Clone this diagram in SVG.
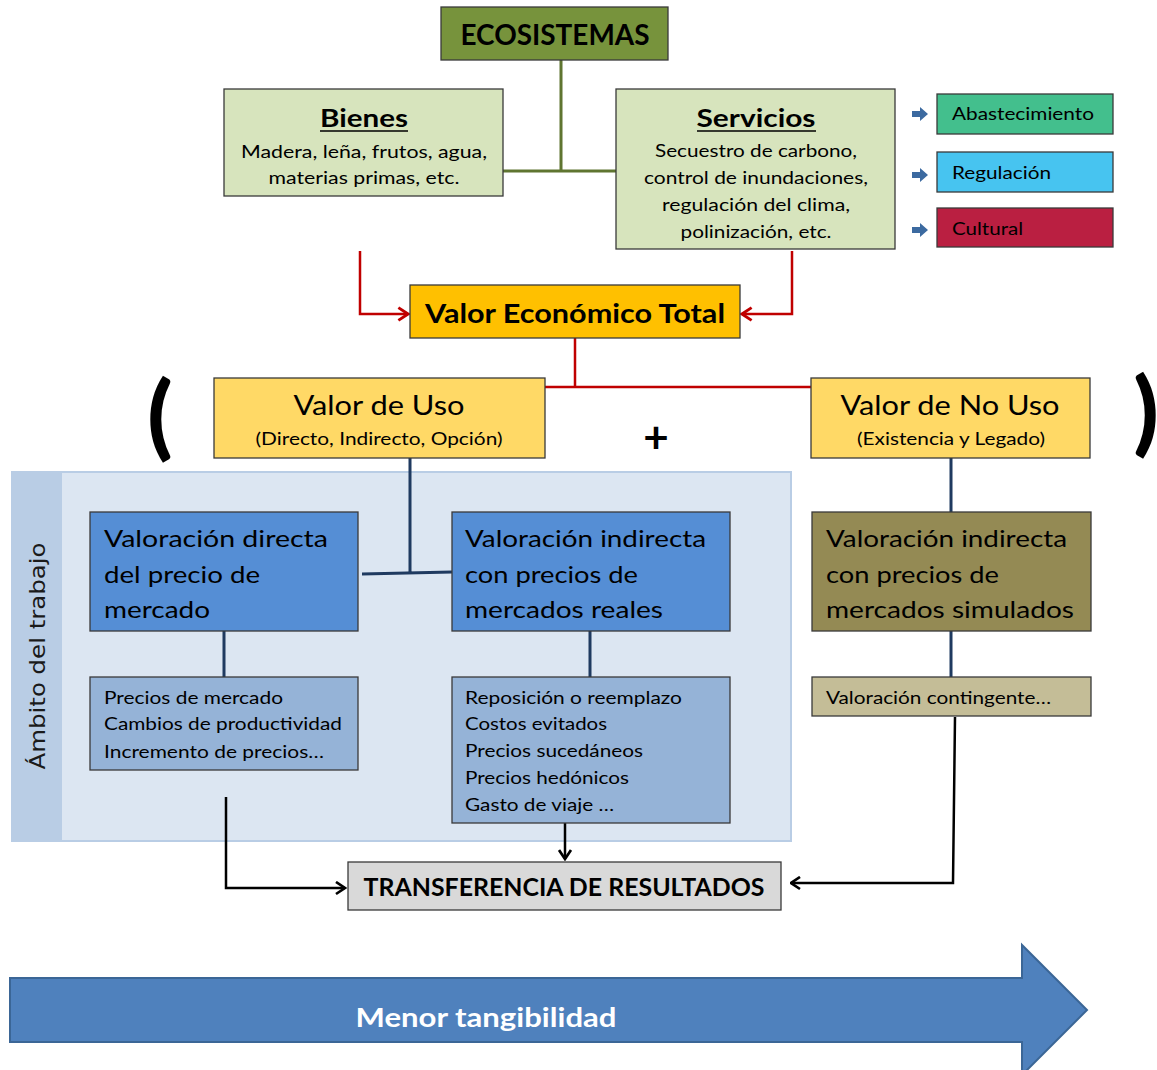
<svg xmlns="http://www.w3.org/2000/svg" width="1157" height="1070" viewBox="0 0 1157 1070">
<style>
text{font-family:Lato,"Open Sans","Liberation Sans",sans-serif;fill:#000}
.b{font-weight:bold}
.box{stroke:#3a3a3a;stroke-width:1.3}
.g{stroke:#5f7530;stroke-width:3;fill:none}
.r{stroke:#c00000;stroke-width:2.5;fill:none}
.n{stroke:#1f3a60;stroke-width:3;fill:none}
.k{stroke:#000;stroke-width:2.5;fill:none}
</style>
<defs>
<marker id="ar" viewBox="0 0 10 10" refX="9" refY="5" markerWidth="16" markerHeight="16" orient="auto" markerUnits="userSpaceOnUse">
<path d="M3,1 L9,5 L3,9" fill="none" stroke="#c00000" stroke-width="1.8"/>
</marker>
<marker id="ak" viewBox="0 0 10 10" refX="9" refY="5" markerWidth="15" markerHeight="15" orient="auto" markerUnits="userSpaceOnUse">
<path d="M3,1 L9,5 L3,9" fill="none" stroke="#000" stroke-width="1.8"/>
</marker>
</defs>
<rect width="1157" height="1070" fill="#fff"/>

<g id="ambito">
<rect x="11" y="471" width="781" height="371" fill="#b9cde5"/>
<rect x="62" y="473" width="728" height="367" fill="#dce6f2"/>
<text transform="translate(45,656) rotate(-90)" text-anchor="middle" font-size="22" textLength="227" lengthAdjust="spacingAndGlyphs" style="font-family:'DejaVu Sans',sans-serif;fill:#1a1a1a">Ámbito del trabajo</text>
</g>

<g id="connectors">
<path class="g" d="M561,60 V171 M503,171 H616"/>
<path class="r" d="M360,251 V314 H408" marker-end="url(#ar)"/>
<path class="r" d="M792,251 V314 H742" marker-end="url(#ar)"/>
<path class="r" d="M575,338 V387 M545,387 H811"/>
<path class="n" d="M410,458 V573 M362,574 L452,572"/>
<path class="n" d="M224,631 V677 M590,631 V677"/>
<path class="n" d="M951,458 V512 M951,631 V677"/>
<path class="k" d="M226,797 V888 H345" marker-end="url(#ak)"/>
<path class="k" d="M565,823 V859" marker-end="url(#ak)"/>
<path class="k" d="M955,717 L953,883 H791" marker-end="url(#ak)"/>
<g fill="#3c6aa0">
<path d="M912,111 h8 v-4 l8,7 l-8,7 v-4 h-8 z"/>
<path d="M912,172 h8 v-4 l8,7 l-8,7 v-4 h-8 z"/>
<path d="M912,227 h8 v-4 l8,7 l-8,7 v-4 h-8 z"/>
</g>
</g>

<g id="ecosistemas">
<rect class="box" x="441" y="7" width="227" height="53" fill="#77933c"/>
<text class="b" x="555" y="45" text-anchor="middle" font-size="28" textLength="189" lengthAdjust="spacingAndGlyphs">ECOSISTEMAS</text>
</g>

<g id="bienes">
<rect class="box" x="224" y="89" width="279" height="107" fill="#d7e4bd"/>
<text class="b" x="364" y="127" text-anchor="middle" font-size="25" textLength="88" lengthAdjust="spacingAndGlyphs">Bienes</text>
<line x1="320" y1="131" x2="408" y2="131" stroke="#000" stroke-width="1.5"/>
<text x="364" y="158" text-anchor="middle" font-size="18" textLength="246" lengthAdjust="spacingAndGlyphs">Madera, leña, frutos, agua,</text>
<text x="364" y="184" text-anchor="middle" font-size="18" textLength="191" lengthAdjust="spacingAndGlyphs">materias primas, etc.</text>
</g>

<g id="servicios">
<rect class="box" x="616" y="89" width="279" height="160" fill="#d7e4bd"/>
<text class="b" x="756" y="127" text-anchor="middle" font-size="25" textLength="119" lengthAdjust="spacingAndGlyphs">Servicios</text>
<line x1="697" y1="131" x2="816" y2="131" stroke="#000" stroke-width="1.5"/>
<text x="756" y="157" text-anchor="middle" font-size="18" textLength="202" lengthAdjust="spacingAndGlyphs">Secuestro de carbono,</text>
<text x="756" y="184" text-anchor="middle" font-size="18" textLength="224" lengthAdjust="spacingAndGlyphs">control de inundaciones,</text>
<text x="756" y="211" text-anchor="middle" font-size="18" textLength="188" lengthAdjust="spacingAndGlyphs">regulación del clima,</text>
<text x="756" y="238" text-anchor="middle" font-size="18" textLength="151" lengthAdjust="spacingAndGlyphs">polinización, etc.</text>
</g>

<g id="abastecimiento">
<rect class="box" x="937" y="94" width="176" height="40" fill="#43bf8d"/>
<text x="952" y="120" font-size="17" textLength="142" lengthAdjust="spacingAndGlyphs">Abastecimiento</text>
</g>
<g id="regulacion">
<rect class="box" x="937" y="152" width="176" height="40" fill="#47c4f0"/>
<text x="952" y="179" font-size="17" textLength="99" lengthAdjust="spacingAndGlyphs">Regulación</text>
</g>
<g id="cultural">
<rect class="box" x="937" y="208" width="176" height="39" fill="#ba1f41"/>
<text x="952" y="235" font-size="17" textLength="71" lengthAdjust="spacingAndGlyphs">Cultural</text>
</g>

<g id="vet">
<rect class="box" x="410" y="285" width="330" height="53" fill="#ffc000"/>
<text class="b" x="575" y="323" text-anchor="middle" font-size="26" textLength="300" lengthAdjust="spacingAndGlyphs">Valor Económico Total</text>
</g>

<g id="valor-uso">
<rect class="box" x="214" y="378" width="331" height="80" fill="#ffd966"/>
<text x="379" y="415" text-anchor="middle" font-size="26" textLength="171" lengthAdjust="spacingAndGlyphs">Valor de Uso</text>
<text x="379" y="445" text-anchor="middle" font-size="17" textLength="247" lengthAdjust="spacingAndGlyphs">(Directo, Indirecto, Opción)</text>
</g>

<g id="valor-no-uso">
<rect class="box" x="811" y="378" width="279" height="80" fill="#ffd966"/>
<text x="950" y="415" text-anchor="middle" font-size="26" textLength="219" lengthAdjust="spacingAndGlyphs">Valor de No Uso</text>
<text x="951" y="445" text-anchor="middle" font-size="17" textLength="188" lengthAdjust="spacingAndGlyphs">(Existencia y Legado)</text>
</g>

<g id="symbols">
<text class="b" x="160" y="448" text-anchor="middle" font-size="92" style="font-weight:900">(</text>
<text class="b" x="1146" y="444" text-anchor="middle" font-size="92" style="font-weight:900">)</text>
<text class="b" x="656" y="453" text-anchor="middle" font-size="44">+</text>
</g>

<g id="val-directa">
<rect class="box" x="90" y="512" width="268" height="119" fill="#558ed5"/>
<text x="104" y="547" font-size="24" textLength="224" lengthAdjust="spacingAndGlyphs">Valoración  directa</text>
<text x="104" y="583" font-size="24" textLength="156" lengthAdjust="spacingAndGlyphs">del precio de</text>
<text x="104" y="618" font-size="24" textLength="106" lengthAdjust="spacingAndGlyphs">mercado</text>
</g>

<g id="val-indirecta-reales">
<rect class="box" x="452" y="512" width="278" height="119" fill="#558ed5"/>
<text x="465" y="547" font-size="24" textLength="241" lengthAdjust="spacingAndGlyphs">Valoración indirecta</text>
<text x="465" y="583" font-size="24" textLength="173" lengthAdjust="spacingAndGlyphs">con precios de</text>
<text x="465" y="618" font-size="24" textLength="198" lengthAdjust="spacingAndGlyphs">mercados reales</text>
</g>

<g id="val-indirecta-simulados">
<rect class="box" x="812" y="512" width="279" height="119" fill="#948a54"/>
<text x="826" y="547" font-size="24" textLength="241" lengthAdjust="spacingAndGlyphs">Valoración indirecta</text>
<text x="826" y="583" font-size="24" textLength="173" lengthAdjust="spacingAndGlyphs">con precios de</text>
<text x="826" y="618" font-size="24" textLength="248" lengthAdjust="spacingAndGlyphs">mercados simulados</text>
</g>

<g id="metodos-directa">
<rect class="box" x="90" y="677" width="268" height="93" fill="#95b3d7"/>
<text x="104" y="704" font-size="18" textLength="179" lengthAdjust="spacingAndGlyphs">Precios de mercado</text>
<text x="104" y="730" font-size="18" textLength="238" lengthAdjust="spacingAndGlyphs">Cambios de productividad</text>
<text x="104" y="758" font-size="18" textLength="220" lengthAdjust="spacingAndGlyphs">Incremento de precios…</text>
</g>

<g id="metodos-reales">
<rect class="box" x="452" y="677" width="278" height="146" fill="#95b3d7"/>
<text x="465" y="704" font-size="18" textLength="217" lengthAdjust="spacingAndGlyphs">Reposición o reemplazo</text>
<text x="465" y="730" font-size="18" textLength="142" lengthAdjust="spacingAndGlyphs">Costos evitados</text>
<text x="465" y="757" font-size="18" textLength="178" lengthAdjust="spacingAndGlyphs">Precios sucedáneos</text>
<text x="465" y="784" font-size="18" textLength="164" lengthAdjust="spacingAndGlyphs">Precios hedónicos</text>
<text x="465" y="811" font-size="18" textLength="149" lengthAdjust="spacingAndGlyphs">Gasto de viaje …</text>
</g>

<g id="contingente">
<rect class="box" x="812" y="677" width="279" height="39" fill="#c4bd97"/>
<text x="826" y="704" font-size="18" textLength="225" lengthAdjust="spacingAndGlyphs">Valoración contingente…</text>
</g>

<g id="transferencia">
<rect class="box" x="348" y="862" width="433" height="48" fill="#d9d9d9"/>
<text class="b" x="564" y="896" text-anchor="middle" font-size="24" textLength="401" lengthAdjust="spacingAndGlyphs">TRANSFERENCIA DE RESULTADOS</text>
</g>

<g id="tangibilidad">
<path d="M10,978 H1022 V945 L1087,1010 L1022,1075 V1042 H10 Z" fill="#4f81bd" stroke="#3b6696" stroke-width="2"/>
<text class="b" x="486" y="1027" text-anchor="middle" font-size="26" textLength="261" lengthAdjust="spacingAndGlyphs" style="fill:#fff">Menor tangibilidad</text>
</g>
</svg>
